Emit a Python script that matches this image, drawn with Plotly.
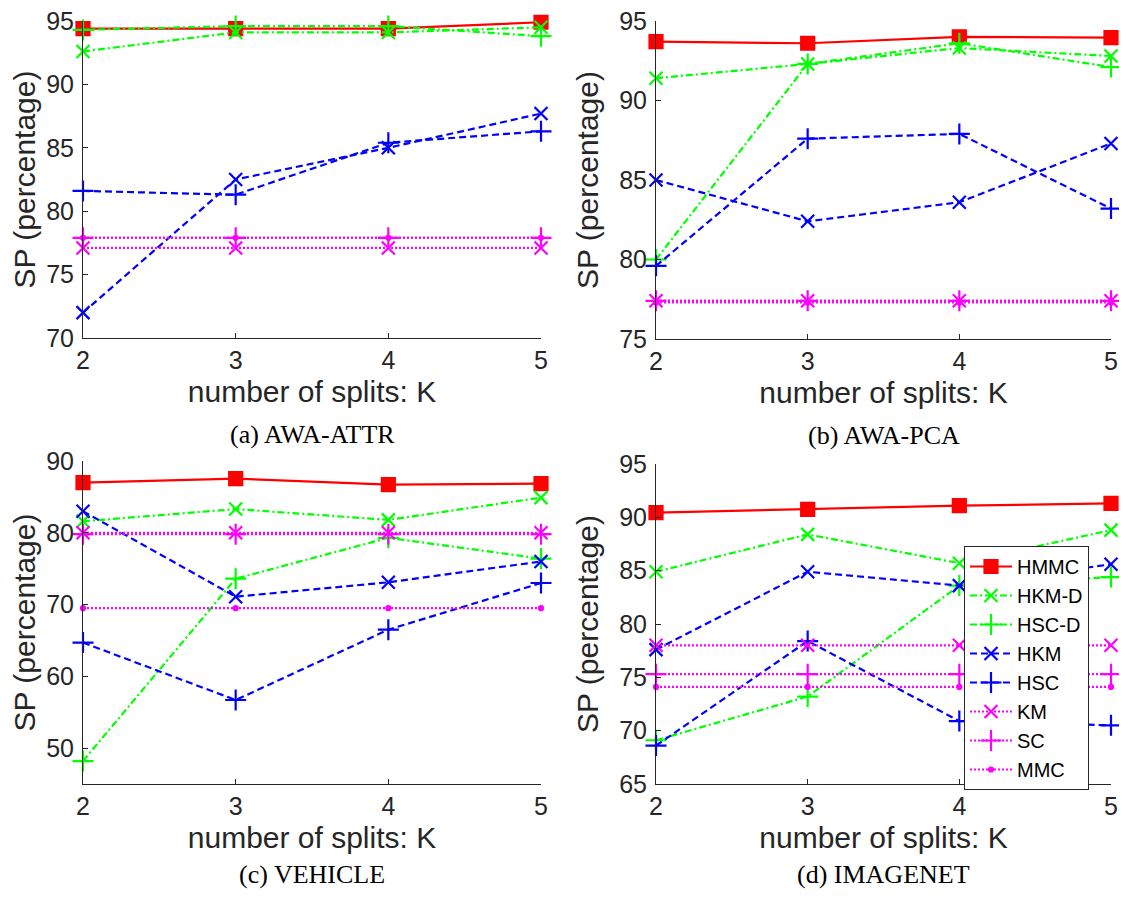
import plotly.graph_objects as go

# ---------------- data ----------------
K = [2, 3, 4, 5]
methods = ["HMMC", "HKM-D", "HSC-D", "HKM", "HSC", "KM", "SC", "MMC"]

# (a) AWA-ATTR
a_HMMC = [94.4, 94.4, 94.4, 94.9]
a_HKMD = [92.6, 94.1, 94.1, 94.5]
a_HSCD = [94.3, 94.6, 94.6, 93.8]
a_HKM = [72.0, 82.5, 85.0, 87.7]
a_HSC = [81.6, 81.3, 85.4, 86.3]
a_KM = [77.1, 77.1, 77.1, 77.1]
a_SC = [77.9, 77.9, 77.9, 77.9]
a_MMC = [77.9, 77.9, 77.9, 77.9]

# (b) AWA-PCA
b_HMMC = [93.7, 93.6, 94.0, 93.95]
b_HKMD = [91.4, 92.3, 93.3, 92.8]
b_HSCD = [80.0, 92.3, 93.6, 92.1]
b_HKM = [85.0, 82.4, 83.6, 87.3]
b_HSC = [79.6, 87.6, 87.9, 83.2]
b_KM = [77.4, 77.4, 77.4, 77.4]
b_SC = [77.4, 77.4, 77.4, 77.4]
b_MMC = [77.3, 77.3, 77.3, 77.3]

# (c) VEHICLE
c_HMMC = [87.0, 87.55, 86.7, 86.85]
c_HKMD = [81.6, 83.3, 81.8, 84.9]
c_HSCD = [48.2, 73.6, 79.3, 76.4]
c_HKM = [83.0, 71.1, 73.1, 76.0]
c_HSC = [64.7, 56.7, 66.5, 73.0]
c_KM = [80.0, 80.0, 80.0, 80.0]
c_SC = [79.8, 79.8, 79.8, 79.8]
c_MMC = [69.5, 69.5, 69.5, 69.5]

# (d) IMAGENET
d_HMMC = [90.45, 90.75, 91.1, 91.3]
d_HKMD = [84.9, 88.4, 85.7, 88.8]
d_HSCD = [69.1, 73.2, 83.6, 84.4]
d_HKM = [77.6, 84.9, 83.6, 85.6]
d_HSC = [68.6, 78.4, 70.9, 70.5]
d_KM = [78.0, 78.0, 78.0, 78.0]
d_SC = [75.3, 75.3, 75.3, 75.3]
d_MMC = [74.1, 74.1, 74.1, 74.1]

captions = ["(a) AWA-ATTR", "(b) AWA-PCA", "(c) VEHICLE", "(d) IMAGENET"]
y_ranges = [[70, 95], [75, 95], [45, 90], [65, 95]]
y_ticks = [[70, 75, 80, 85, 90, 95], [75, 80, 85, 90, 95],
           [50, 60, 70, 80, 90], [65, 70, 75, 80, 85, 90, 95]]
x_title = "number of splits: K"
y_title = "SP (percentage)"

panels = [
    [a_HMMC, a_HKMD, a_HSCD, a_HKM, a_HSC, a_KM, a_SC, a_MMC],
    [b_HMMC, b_HKMD, b_HSCD, b_HKM, b_HSC, b_KM, b_SC, b_MMC],
    [c_HMMC, c_HKMD, c_HSCD, c_HKM, c_HSC, c_KM, c_SC, c_MMC],
    [d_HMMC, d_HKMD, d_HSCD, d_HKM, d_HSC, d_KM, d_SC, d_MMC],
]

# ---------------- styles ----------------
RED, GREEN, BLUE, MAG = "#FF0000", "#00FF00", "#0000FF", "#FF00FF"
DASH, DASHDOT, DOT = "7px,4px", "7px,3px,2px,3px", "2px,2px"
styles = [
    dict(color=RED, dash="solid", symbol="square", size=13),
    dict(color=GREEN, dash=DASHDOT, symbol="x-thin-open", size=13),
    dict(color=GREEN, dash=DASHDOT, symbol="cross-thin-open", size=15),
    dict(color=BLUE, dash=DASH, symbol="x-thin-open", size=13),
    dict(color=BLUE, dash=DASH, symbol="cross-thin-open", size=15),
    dict(color=MAG, dash=DOT, symbol="x-thin-open", size=13),
    dict(color=MAG, dash=DOT, symbol="cross-thin-open", size=15),
    dict(color=MAG, dash=DOT, symbol="circle", size=4),
]

# page is 1127x898; the html body adds an 8 px margin around the figure
OFF = 8
W, H = 1127 - 2 * OFF, 898 - 2 * OFF
# page-pixel boxes for each axes: (left, right, top, bottom)
boxes = [(83, 541, 21, 338), (656, 1111, 21, 339),
         (83, 541, 461, 784), (656, 1111, 464, 784)]

fig = go.Figure()
AX = "#262626"
SANS = "Liberation Sans, Arial, sans-serif"
SERIF = "Liberation Serif, Times New Roman, serif"

for p, series in enumerate(panels):
    xa = "x" if p == 0 else f"x{p+1}"
    ya = "y" if p == 0 else f"y{p+1}"
    for m, (name, vals) in enumerate(zip(methods, series)):
        st = styles[m]
        fig.add_trace(go.Scatter(
            x=K, y=vals, name=name, xaxis=xa, yaxis=ya,
            mode="lines+markers",
            showlegend=(p == 3),
            cliponaxis=False,
            line=dict(color=st["color"], dash=st["dash"], width=2.2),
            marker=dict(symbol=st["symbol"], size=st["size"], color=st["color"],
                        line=dict(color=st["color"], width=2.2)),
        ))
    l, r, t, b = [v - OFF for v in boxes[p]]
    xkey = "xaxis" if p == 0 else f"xaxis{p+1}"
    ykey = "yaxis" if p == 0 else f"yaxis{p+1}"
    fig.layout[xkey] = dict(
        domain=[l / W, r / W], anchor=ya, range=[2, 5], automargin=False,
        tickvals=K, ticks="inside", ticklen=5, tickcolor=AX,
        showline=True, linecolor=AX, linewidth=1, showgrid=False, zeroline=False,
        tickfont=dict(family=SANS, size=25, color=AX), ticklabeloverflow="allow",
        title=dict(text=x_title, font=dict(family=SANS, size=30, color=AX), standoff=7),
    )
    fig.layout[ykey] = dict(
        domain=[1 - b / H, 1 - t / H], anchor=xa, range=y_ranges[p], automargin=False,
        tickvals=y_ticks[p], ticks="inside", ticklen=5, tickcolor=AX,
        showline=True, linecolor=AX, linewidth=1, showgrid=False, zeroline=False,
        tickfont=dict(family=SANS, size=25, color=AX), ticklabelstandoff=3,
        ticklabeloverflow="allow",
        title=dict(text=y_title, font=dict(family=SANS, size=30, color=AX), standoff=11),
    )
    if p < 2:
        cap_y, cap_anchor = 1 - (b + 96) / H, "middle"
    else:
        cap_y, cap_anchor = 0.0, "bottom"
    fig.add_annotation(
        text=captions[p], xref="paper", yref="paper",
        x=(l + r) / 2 / W, y=cap_y, xanchor="center", yanchor=cap_anchor,
        showarrow=False, borderpad=0,
        font=dict(family=SERIF, size=26, color="#000000"),
    )

fig.update_layout(
    width=W, height=H, margin=dict(l=0, r=0, t=0, b=0, autoexpand=False),
    paper_bgcolor="white", plot_bgcolor="white",
    legend=dict(x=(964 - OFF) / W, y=1 - (546 - OFF) / H, xanchor="left", yanchor="top",
                bgcolor="white", bordercolor="#262626", borderwidth=1,
                font=dict(family=SANS, size=20, color="#000000"),
                itemwidth=42, tracegroupgap=0),
)

fig.write_html("out.html")
